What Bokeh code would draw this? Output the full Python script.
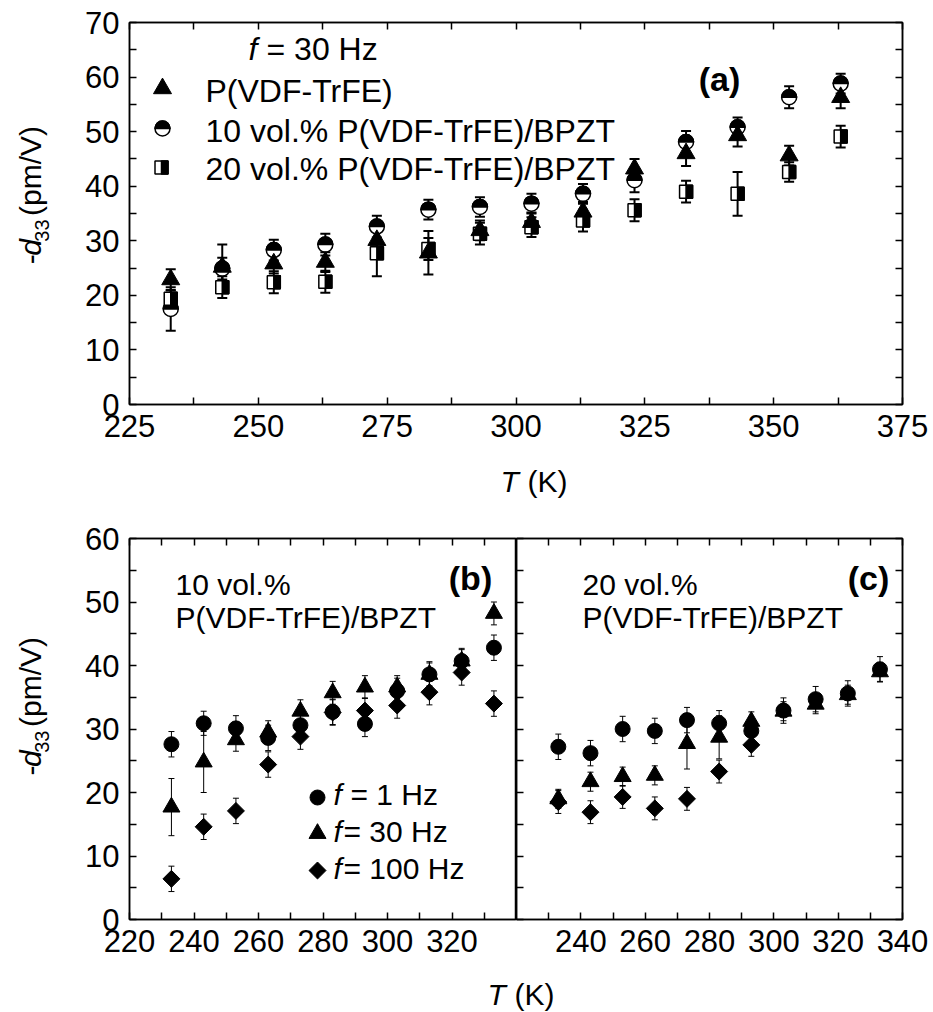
import numpy as np
from bokeh.plotting import figure
from bokeh.models import (ColumnDataSource, FixedTicker, LinearAxis, Label, Range1d,
                          CustomJSTickFormatter)
from bokeh.layouts import column, row
from bokeh.embed import file_html
from bokeh.resources import INLINE
from bokeh.transform import dodge
from bokeh.core.properties import value

FONT = "Liberation Sans"

# ---------------- data: panel (a), f = 30 Hz ----------------
T_a = [233, 243, 253, 263, 273, 283, 293, 303, 313, 323, 333, 343, 353, 363]
d33_pvdf = [22.9, 25.2, 25.8, 26.1, 30.1, 27.8, 31.9, 33.4, 35.3, 43.2, 46.0, 49.3, 45.6, 56.3]
err_pvdf = [1.9, 4.1, 1.8, 1.8, 2.5, 4.0, 1.8, 1.8, 1.8, 1.8, 2.3, 2.0, 1.8, 2.0]
d33_10vol = [17.5, 24.9, 28.3, 29.3, 32.6, 35.7, 36.2, 36.8, 38.6, 41.1, 48.1, 50.8, 56.3, 58.8]
err_10vol = [4.0, 2.0, 1.9, 2.0, 2.0, 1.8, 1.8, 1.8, 1.8, 2.2, 2.0, 1.8, 2.0, 1.8]
d33_20vol = [19.4, 21.5, 22.4, 22.5, 27.7, 28.5, 31.3, 32.5, 33.7, 35.6, 39.0, 38.6, 42.6, 49.1]
err_20vol = [1.5, 2.0, 2.0, 2.0, 4.2, 2.0, 2.0, 1.8, 2.0, 2.0, 2.0, 4.0, 1.8, 2.0]
x_ticks_a = [225, 250, 275, 300, 325, 350, 375]
y_ticks_a = [0, 10, 20, 30, 40, 50, 60, 70]
legend_a = ["P(VDF-TrFE)", "10 vol.% P(VDF-TrFE)/BPZT", "20 vol.% P(VDF-TrFE)/BPZT"]

# ---------------- data: panels (b) and (c) ----------------
T_bc = [233, 243, 253, 263, 273, 283, 293, 303, 313, 323, 333]
b_1hz = [27.6, 30.9, 30.1, 28.6, 30.6, 32.7, 30.8, 36.0, 38.6, 40.7, 42.8]
b_1hz_err = [2.0, 1.9, 2.0, 2.0, 2.0, 2.0, 2.0, 2.0, 2.0, 2.0, 2.0]
b_30hz = [17.7, 24.8, 28.3, 29.5, 32.8, 35.7, 36.6, 36.6, 38.6, 40.7, 48.2]
b_30hz_err = [4.5, 4.8, 1.8, 1.8, 1.8, 1.8, 1.8, 1.8, 1.8, 1.8, 1.8]
b_100hz = [6.4, 14.6, 17.1, 24.4, 28.8, 32.6, 32.9, 33.7, 35.8, 38.9, 34.0]
b_100hz_err = [2.0, 2.0, 2.0, 2.0, 2.0, 2.0, 2.0, 2.0, 2.0, 2.0, 2.0]

c_1hz = [27.2, 26.2, 30.0, 29.7, 31.4, 30.9, 29.7, 32.9, 34.7, 35.6, 39.4]
c_1hz_err = [2.0, 2.0, 2.0, 2.0, 2.0, 2.0, 2.0, 2.0, 2.0, 2.0, 2.0]
c_30hz = [19.0, 21.7, 22.5, 22.7, 27.7, 28.7, 31.2, 32.8, 33.9, 35.4, 39.0]
c_30hz_err = [1.5, 1.5, 1.5, 1.5, 4.0, 3.4, 1.5, 1.5, 1.5, 1.5, 1.5]
T_c100 = [233, 243, 253, 263, 273, 283, 293]
c_100hz = [18.5, 16.9, 19.3, 17.5, 19.0, 23.3, 27.5]
c_100hz_err = [1.8, 1.8, 1.8, 1.8, 1.8, 1.8, 1.8]

x_ticks_b = [220, 240, 260, 280, 300, 320]
x_ticks_c = [240, 260, 280, 300, 320, 340]
y_ticks_bc = [0, 10, 20, 30, 40, 50, 60]
legend_bc = ["= 1 Hz", "= 30 Hz", "= 100 Hz"]

# ---------------- layout geometry (page pixels) ----------------
A = dict(left=129, right=902, top=22, bottom=404, x=(225, 375), y=(0, 70))
B = dict(left=129, right=516, top=538, bottom=919, x=(220, 340), y=(0, 60))
C = dict(left=516, right=902, top=538, bottom=919, x=(220, 340), y=(0, 60))


def px2data(g, px, py):
    x0, x1 = g["x"]
    y0, y1 = g["y"]
    x = x0 + (px - g["left"]) * (x1 - x0) / (g["right"] - g["left"])
    y = y0 + (g["bottom"] - py) * (y1 - y0) / (g["bottom"] - g["top"])
    return x, y


def setup_axis(ax, major, minor, labels, tick_len=7, lw=1.5):
    ax.ticker = FixedTicker(ticks=major, minor_ticks=minor)
    ax.axis_line_color = "black"
    ax.axis_line_width = lw
    ax.major_tick_line_color = "black"
    ax.major_tick_line_width = lw
    ax.minor_tick_line_color = "black"
    ax.minor_tick_line_width = lw
    ax.major_tick_in = tick_len
    ax.major_tick_out = 0
    ax.minor_tick_in = tick_len
    ax.minor_tick_out = 0
    ax.axis_label = None
    if labels:
        ax.major_label_text_font = FONT
        ax.major_label_text_font_size = "31px"
        ax.major_label_text_color = "black"
        ax.major_label_standoff = 10
    else:
        ax.formatter = CustomJSTickFormatter(code="return ''")
        ax.major_label_text_font_size = "0px"
        ax.major_label_standoff = 0


def make_fig(w, h, g, bl, br, bt, bb):
    p = figure(width=w, height=h, x_range=Range1d(*g["x"]), y_range=Range1d(*g["y"]),
               output_backend="svg", toolbar_location=None,
               min_border_left=bl, min_border_right=br, min_border_top=bt, min_border_bottom=bb,
               x_axis_location=None, y_axis_location=None)
    p.xgrid.visible = False
    p.ygrid.visible = False
    p.outline_line_color = "black"
    p.outline_line_width = 1.5
    p.background_fill_color = "white"
    p.border_fill_color = "white"
    return p


def text_fig(w, h):
    p = figure(width=w, height=h, x_range=Range1d(0, w), y_range=Range1d(0, h),
               output_backend="svg", toolbar_location=None,
               min_border_left=0, min_border_right=0, min_border_top=0, min_border_bottom=0,
               x_axis_location=None, y_axis_location=None)
    p.xgrid.visible = False
    p.ygrid.visible = False
    p.outline_line_color = None
    p.background_fill_color = "white"
    p.border_fill_color = "white"
    return p


def ttext(p, x, y_top, txt, size="30px", style="normal", angle=0.0):
    # y_top: distance from the top of this text strip
    p.text(x=[x], y=[p.height - y_top], text=[txt], angle=angle,
           text_font=value(FONT), text_font_size=value(size), text_font_style=value(style),
           text_align=value("left"), text_baseline=value("middle"), text_color="black")


def add_axis(p, loc, major, minor, labels, lw=1.5):
    ax = LinearAxis()
    setup_axis(ax, major, minor, labels, lw=lw)
    p.add_layout(ax, loc)


def lab(p, g, px, py, text, size="30px", style="normal", align="left", baseline="middle"):
    p.add_layout(Label(x=px - g["left"], y=g["bottom"] - py, x_units="screen", y_units="screen",
                       text=text, text_font=FONT, text_font_size=size, text_font_style=style,
                       text_color="black", text_align=align, text_baseline=baseline))


def errbars(p, x, y, e, cap, lw):
    lo = [a - b for a, b in zip(y, e)]
    hi = [a + b for a, b in zip(y, e)]
    p.segment(x0=x, y0=lo, x1=x, y1=hi, line_color="black", line_width=lw)
    p.scatter(x=list(x) + list(x), y=lo + hi, marker="dash", size=cap, line_color="black",
              line_width=lw)


def half_circle(p, x, y, size):
    p.scatter(x=x, y=y, marker="circle", size=size, fill_color="white", line_color="black",
              line_width=1.5)
    p.wedge(x=x, y=y, radius=size / 2, radius_units="screen", start_angle=0, end_angle=np.pi,
            fill_color="black", line_color="black", line_width=1.5)


def half_square(p, g, x, y, size):
    px_per_unit = (g["right"] - g["left"]) / (g["x"][1] - g["x"][0])
    src = ColumnDataSource(dict(x=list(x), y=list(y)))
    p.scatter(x="x", y="y", source=src, marker="square", size=size, fill_color="white",
              line_color="black", line_width=1.5)
    p.rect(x=dodge("x", (size / 4) / px_per_unit), y="y", source=src, width=size / 2,
           height=size, width_units="screen", height_units="screen",
           fill_color="black", line_color="black", line_width=1.5)


def y_title(p, cy_top):
    # -d_33 (pm/V), rotated, centred at distance cy_top from the strip top
    c = p.height - cy_top
    ang = np.pi / 2
    xm = 30
    def put(x, y, t, size, style):
        p.text(x=[x], y=[y], text=[t], angle=ang, text_font=value(FONT),
               text_font_size=value(size), text_font_style=value(style),
               text_align=value("left"), text_baseline=value("middle"), text_color="black")
    s = c - 75
    put(xm, s, "-", "30px", "normal")
    put(xm, s + 10, "d", "30px", "italic")
    put(xm + 11, s + 27, "33", "20px", "normal")
    put(xm, s + 58, "(pm/V)", "30px", "normal")


# ================= panel (a) =================
ya = text_fig(70, 460)
y_title(ya, 216)

pa = make_fig(863, 460, A, 59, 31, 22, 56)
add_axis(pa, "below", x_ticks_a, [t + 12.5 for t in x_ticks_a[:-1]], True)
add_axis(pa, "above", x_ticks_a, [t + 12.5 for t in x_ticks_a[:-1]], False)
add_axis(pa, "left", y_ticks_a, [t + 5 for t in y_ticks_a[:-1]], True)
add_axis(pa, "right", y_ticks_a, [t + 5 for t in y_ticks_a[:-1]], False)

errbars(pa, T_a, d33_10vol, err_10vol, 10, 2)
errbars(pa, T_a, d33_20vol, err_20vol, 10, 2)
errbars(pa, T_a, d33_pvdf, err_pvdf, 10, 2)
half_circle(pa, T_a, d33_10vol, 15)
half_square(pa, A, T_a, d33_20vol, 13)
pa.scatter(x=T_a, y=d33_pvdf, marker="triangle", size=18, fill_color="black", line_color="black")

# legend (a)
lx, ly = px2data(A, 162, 88)
pa.scatter(x=[lx], y=[ly], marker="triangle", size=18, fill_color="black", line_color="black")
lx, ly = px2data(A, 162, 128)
half_circle(pa, [lx], [ly], 15)
lx, ly = px2data(A, 161, 167)
half_square(pa, A, [lx], [ly], 13)
lab(pa, A, 248, 48, "f", "32px", "italic")
lab(pa, A, 266, 48, "= 30 Hz", "32px")
for txt, yy in zip(legend_a, [90, 130, 168]):
    lab(pa, A, 205, yy, txt, "32px")
lab(pa, A, 719, 78, "(a)", "34px", "bold", align="center")

xa = text_fig(933, 60)
ttext(xa, 500, 21, "T", "30px", "italic")
ttext(xa, 527, 21, "(K)", "30px")

# ================= panel (b) =================
yb = text_fig(70, 455)
y_title(yb, 208)

pb = make_fig(446, 455, B, 59, 0, 18, 56)
add_axis(pb, "below", x_ticks_b, [t + 10 for t in x_ticks_b], True)
add_axis(pb, "above", x_ticks_b, [t + 10 for t in x_ticks_b], False)
add_axis(pb, "left", y_ticks_bc, [t + 5 for t in y_ticks_bc[:-1]], True)

errbars(pb, T_bc, b_1hz, b_1hz_err, 6, 1)
errbars(pb, T_bc, b_30hz, b_30hz_err, 6, 1)
errbars(pb, T_bc, b_100hz, b_100hz_err, 6, 1)
pb.scatter(x=T_bc, y=b_1hz, marker="circle", size=15, fill_color="black", line_color="black")
pb.scatter(x=T_bc, y=b_30hz, marker="triangle", size=17, fill_color="black", line_color="black")
pb.scatter(x=T_bc, y=b_100hz, marker="square", angle=np.pi / 4, size=12, fill_color="black",
           line_color="black")

# legend (b)
mk = [dict(marker="circle", size=15, angle=0.0), dict(marker="triangle", size=17, angle=0.0),
      dict(marker="square", size=12, angle=np.pi / 4)]
for m, txt, my, ty in zip(mk, legend_bc, [797, 833, 870], [794, 831, 868]):
    lx, ly = px2data(B, 317, my)
    pb.scatter(x=[lx], y=[ly], fill_color="black", line_color="black", **m)
    lab(pb, B, 333, ty, "f", "30px", "italic")
    lab(pb, B, 350 if txt == legend_bc[0] else 343, ty, txt, "30px")

lab(pb, B, 175, 584, "10 vol.%", "30px")
lab(pb, B, 175, 617, "P(VDF-TrFE)/BPZT", "30px")
lab(pb, B, 470, 577, "(b)", "34px", "bold", align="center")

# ================= panel (c) =================
pc = make_fig(417, 455, C, 0, 31, 18, 56)
add_axis(pc, "below", x_ticks_c, [t - 10 for t in x_ticks_c], True)
add_axis(pc, "above", x_ticks_c, [t - 10 for t in x_ticks_c], False)
add_axis(pc, "left", y_ticks_bc, [t + 5 for t in y_ticks_bc[:-1]], False)
add_axis(pc, "right", y_ticks_bc, [t + 5 for t in y_ticks_bc[:-1]], False)

errbars(pc, T_bc, c_1hz, c_1hz_err, 6, 1)
errbars(pc, T_bc, c_30hz, c_30hz_err, 6, 1)
errbars(pc, T_c100, c_100hz, c_100hz_err, 6, 1)
pc.scatter(x=T_bc, y=c_1hz, marker="circle", size=15, fill_color="black", line_color="black")
pc.scatter(x=T_bc, y=c_30hz, marker="triangle", size=17, fill_color="black", line_color="black")
pc.scatter(x=T_c100, y=c_100hz, marker="square", angle=np.pi / 4, size=12, fill_color="black",
           line_color="black")

lab(pc, C, 582, 584, "20 vol.%", "30px")
lab(pc, C, 582, 617, "P(VDF-TrFE)/BPZT", "30px")
lab(pc, C, 868, 577, "(c)", "34px", "bold", align="center")

xbc = text_fig(933, 37)
ttext(xbc, 487, 19, "T", "30px", "italic")
ttext(xbc, 514, 19, "(K)", "30px")

layout = column(row(ya, pa), xa, row(yb, pb, pc), xbc)
open("out.html", "w").write(file_html(layout, INLINE))
